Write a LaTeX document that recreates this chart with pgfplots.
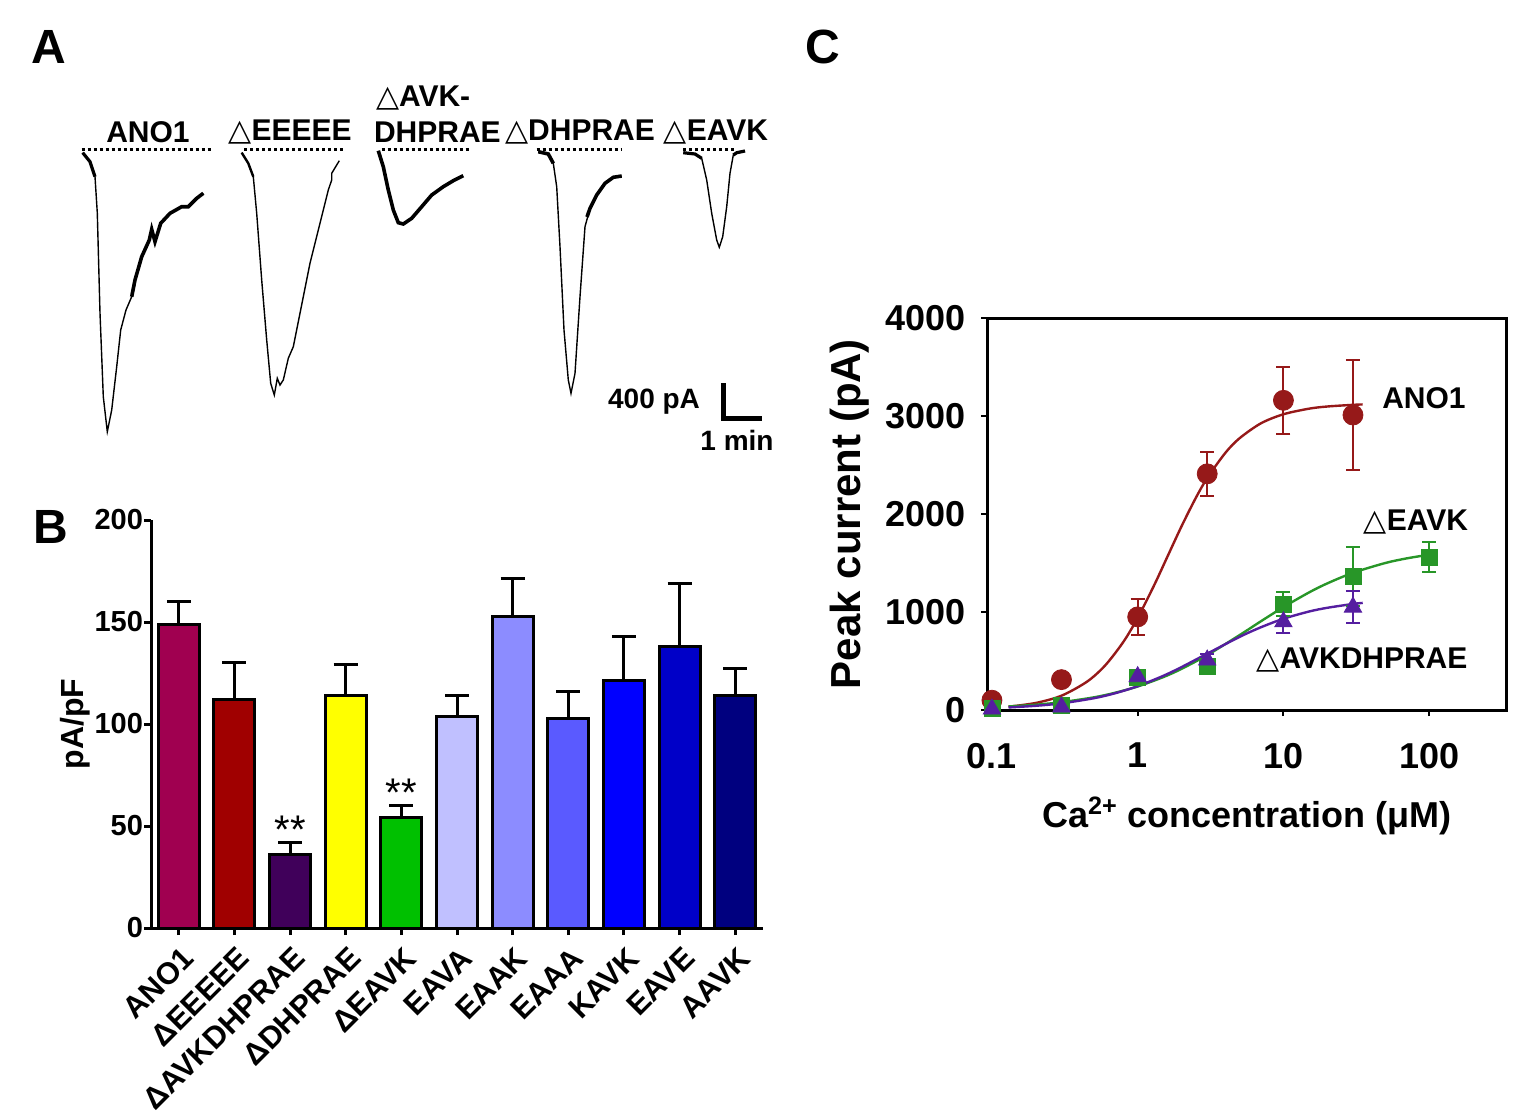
\documentclass[border=0pt]{standalone}
\usepackage{pgfplots}
\pgfplotsset{compat=1.18}
\usepackage{fontspec}
\setmainfont{Liberation Sans}
\newfontfamily\dejavu{DejaVu Sans}
\newcommand{\tri}{{\dejavu\mdseries △}}
\newcommand{\fA}{\fontsize{15pt}{15pt}\selectfont\bfseries}
\newcommand{\fL}{\fontsize{24pt}{24pt}\selectfont\bfseries}
\definecolor{cANO}{RGB}{160,0,80}
\definecolor{cEEE}{RGB}{160,0,0}
\definecolor{cAVK}{RGB}{64,0,90}
\definecolor{cDHP}{RGB}{255,255,0}
\definecolor{cEAVK}{RGB}{0,192,0}
\definecolor{cEAVA}{RGB}{192,192,255}
\definecolor{cEAAK}{RGB}{140,140,255}
\definecolor{cEAAA}{RGB}{90,90,255}
\definecolor{cKAVK}{RGB}{0,0,255}
\definecolor{cEAVE}{RGB}{0,0,200}
\definecolor{cAAVK}{RGB}{0,0,127}
\definecolor{lRed}{RGB}{150,25,25}
\definecolor{lGreen}{RGB}{40,150,40}
\definecolor{lPurple}{RGB}{85,30,160}
\pgfplotsset{
  barB/.style={ybar, bar shift=0pt, bar width=20.5pt, draw=black, line width=1.5pt, fill=#1,
    error bars/.cd, y dir=plus, y explicit,
    error bar style={line width=1.5pt, black},
    error mark options={rotate=90, line width=1.5pt, black, mark size=6pt}},
  ptC/.style={only marks, color=#1,
    error bars/.cd, y dir=both, y explicit,
    error bar style={line width=1pt, #1},
    error mark options={rotate=90, line width=1pt, #1, mark size=3.5pt}}
}
\begin{document}
\begin{tikzpicture}
\useasboundingbox (0,0) rectangle (758.5pt,-559pt);
% ---------------- overlay axis in pixel coordinates (panel A, labels)
\begin{axis}[at={(0pt,0pt)}, anchor=north west, scale only axis,
  width=758.5pt, height=559pt, xmin=0, xmax=1517, ymin=0, ymax=1118,
  y dir=reverse, hide axis, clip=false]
% dotted stimulus bars
\addplot[line width=1.6pt, dash pattern=on 1.4pt off 1.6pt] coordinates {(81.7,149.3) (210.7,149.3)};
\addplot[line width=1.6pt, dash pattern=on 1.4pt off 1.6pt] coordinates {(244.3,149.3) (343.3,149.3)};
\addplot[line width=1.6pt, dash pattern=on 1.4pt off 1.6pt] coordinates {(381.7,149.3) (470,149.3)};
\addplot[line width=1.6pt, dash pattern=on 1.4pt off 1.6pt] coordinates {(536.7,149.3) (621.7,149.3)};
\addplot[line width=1.6pt, dash pattern=on 1.4pt off 1.6pt] coordinates {(683.3,149.3) (736.7,149.3)};
% ANO1 trace
\addplot[line width=0.7pt] coordinates {(82.7,152.7) (90,161.7) (95,176.7) (97.3,213) (100,313) (103.3,396.7) (107.3,431.7) (111.7,410) (116.7,366.7) (120.7,330) (126,310) (131.7,296.7) (135,280) (141.7,256.7) (149.3,240) (151.7,229.3) (155,241.7) (160.7,223.3) (170,213.3) (181.7,206.7) (188.3,206.7) (196.7,198.3) (203.3,193.3)};
\addplot[line width=1.6pt] coordinates {(82.7,152.7) (90,161.7) (95,176.7)};
\addplot[line width=1.8pt] coordinates {(131.7,296.7) (135,280) (141.7,256.7) (149.3,240) (151.7,229.3) (155,241.7) (160.7,223.3) (170,213.3) (181.7,206.7) (188.3,206.7) (196.7,198.3) (203.3,193.3)};
% dEEEEE trace
\addplot[line width=0.7pt] coordinates {(241.7,152.7) (248.3,163.3) (253.3,176.7) (256.7,213.3) (261.7,280) (266.7,340) (270.7,383.3) (274.3,395) (277.3,378.3) (280,385) (283.3,380) (288.3,358.3) (293.3,346.7) (300,313.3) (310,263.3) (320,223.3) (328.3,190) (331.7,180) (331.7,173.3) (339.3,160.7)};
\addplot[line width=1.2pt] coordinates {(241.7,152.7) (248.3,163.3) (253.3,176.7)};
% dAVK-DHPRAE trace
\addplot[line width=1.8pt] coordinates {(378.3,150.7) (383.3,166.7) (388.3,190) (393.3,210) (398.3,222.7) (403.3,224) (411.7,218.3) (421.7,206.7) (431.7,195) (443.3,186.7) (453.3,180.7) (463.3,175.7)};
% dDHPRAE trace
\addplot[line width=0.7pt] coordinates {(538.3,151.7) (548.3,154) (553.3,163.3) (556.7,186.7) (560,246.7) (564,330) (568.3,380) (571,393.3) (575,373.3) (580,296.7) (585,226.7) (590,208.3) (596.7,195) (605,183.3) (613.3,177.3) (621.7,176)};
\addplot[line width=1.8pt] coordinates {(538.3,151.7) (548.3,154) (553.3,163.3)};
\addplot[line width=1.8pt] coordinates {(587,217) (590,208.3) (596.7,195) (605,183.3) (613.3,177.3) (621.7,176)};
% dEAVK trace
\addplot[line width=0.7pt] coordinates {(683.3,152.7) (695,154) (701.7,158.3) (706.7,180) (711.7,213.3) (716.7,240) (719.3,247.3) (722.7,236.7) (726.7,206.7) (730,173.3) (733.3,155) (736.7,152.7) (745,151)};
\addplot[line width=1.6pt] coordinates {(683.3,152.7) (695,154) (701.7,158.3)};
\addplot[line width=1.6pt] coordinates {(733.3,155) (736.7,152.7) (745,151)};
% scale bar
\addplot[line width=2.2pt, line join=miter] coordinates {(723.3,383.3) (723.3,418.3) (761.7,418.3)};
% texts panel A
\node[font=\fA] at (axis cs:148,132) {ANO1};
\node[font=\fA] at (axis cs:290,132) {\tri EEEEE};
\node[font=\fA, anchor=west] at (axis cs:369,98) {\tri AVK-};
\node[font=\fA, anchor=west] at (axis cs:367,132) {DHPRAE};
\node[font=\fA] at (axis cs:580,132) {\tri DHPRAE};
\node[font=\fA] at (axis cs:716,132) {\tri EAVK};
\node[font=\fontsize{14pt}{14pt}\selectfont\bfseries, anchor=east] at (axis cs:707,402) {400 pA};
\node[font=\fontsize{14pt}{14pt}\selectfont\bfseries] at (axis cs:737,440) {1 min};
% panel letters
\node[font=\fL] at (axis cs:49,47) {A};
\node[font=\fL] at (axis cs:51,527) {B};
\node[font=\fL] at (axis cs:823,47) {C};
% panel C series labels
\node[font=\fA] at (axis cs:1424,398) {ANO1};
\node[font=\fA] at (axis cs:1416,522) {\tri EAVK};
\node[font=\fA] at (axis cs:1362,660) {\tri AVKDHPRAE};
\end{axis}
% ---------------- panel B
\begin{axis}[at={(75.5pt,-464pt)}, anchor=south west, scale only axis,
  width=306pt, height=204pt,
  xmin=-0.5, xmax=10.5, ymin=0, ymax=200,
  axis x line*=bottom, axis y line*=left,
  axis line style={line width=1.5pt, -},
  tick align=outside, major tick length=3.5pt,
  tick style={line width=1.5pt, black},
  xtick={0,1,2,3,4,5,6,7,8,9,10},
  xticklabels={ANO1,ΔEEEEE,ΔAVKDHPRAE,ΔDHPRAE,ΔEAVK,EAVA,EAAK,EAAA,KAVK,EAVE,AAVK},
  ytick={0,50,100,150,200},
  yticklabels={0,50,100,150,200},
  yticklabel style={font=\fontsize{14.5pt}{14.5pt}\selectfont\bfseries, xshift=3pt},
  xticklabel style={font=\fontsize{15.3pt}{15.3pt}\selectfont\bfseries, yshift=-5pt, xshift=1pt, rotate=45, anchor=north east, inner sep=0pt},
  ylabel={pA/pF},
  ylabel style={font=\fontsize{16pt}{16pt}\selectfont\bfseries, at={(axis description cs:-0.124,0.5)}, anchor=center},
  clip=false]
\addplot[barB=cANO] coordinates {(0,149) +- (0,11)};
\addplot[barB=cEEE] coordinates {(1,112) +- (0,18)};
\addplot[barB=cAVK] coordinates {(2,36) +- (0,6)};
\addplot[barB=cDHP] coordinates {(3,114) +- (0,15)};
\addplot[barB=cEAVK] coordinates {(4,54) +- (0,6)};
\addplot[barB=cEAVA] coordinates {(5,103.5) +- (0,10.5)};
\addplot[barB=cEAAK] coordinates {(6,152.5) +- (0,19)};
\addplot[barB=cEAAA] coordinates {(7,102.7) +- (0,13.3)};
\addplot[barB=cKAVK] coordinates {(8,121.5) +- (0,21.5)};
\addplot[barB=cEAVE] coordinates {(9,138) +- (0,31)};
\addplot[barB=cAAVK] coordinates {(10,114) +- (0,13)};
\node[font=\fontsize{20pt}{20pt}\selectfont, anchor=south] at (axis cs:2,38) {**};
\node[font=\fontsize{20pt}{20pt}\selectfont, anchor=south] at (axis cs:4,56) {**};
\end{axis}
% ---------------- panel C
\begin{axis}[at={(493.5pt,-355pt)}, anchor=south west, scale only axis,
  width=260pt, height=196pt,
  xmode=log, xmin=0.0925, xmax=342, ymin=0, ymax=4000,
  xtick={0.1,1,10,100}, xticklabels={0.1,1,10,100}, xminorticks=false,
  ytick={0,1000,2000,3000,4000}, yticklabels={0,1000,2000,3000,4000},
  tick pos=left, tick align=outside, major tick length=3pt,
  axis line style={line width=1.5pt},
  tick style={line width=1pt, black},
  tick label style={font=\fontsize{18pt}{18pt}\selectfont\bfseries},
  xticklabel style={yshift=-10pt},
  yticklabel style={xshift=-4pt},
  xlabel={Ca\textsuperscript{2+} concentration (μM)},
  ylabel={Peak current (pA)},
  xlabel style={font=\fontsize{18pt}{18pt}\selectfont\bfseries, at={(axis description cs:0.5,-0.270)}, anchor=center},
  ylabel style={font=\fontsize{21pt}{21pt}\selectfont\bfseries, at={(axis description cs:-0.2635,0.5)}, anchor=center},
  clip=false]
% fitted curves
\addplot[lRed, line width=1.2pt, smooth] coordinates {(0.13,34) (0.2,72) (0.3,146) (0.45,290) (0.6,457) (0.8,698) (1,940) (1.3,1276) (1.6,1565) (2,1875) (2.5,2162) (3,2367) (4,2625) (5,2773) (7,2925) (10,3018) (15,3075) (20,3097) (30,3114) (35,3118)};
\addplot[lGreen, line width=1.2pt, smooth] coordinates {(0.13,36) (0.2,54) (0.3,80) (0.5,129) (0.7,176) (1,240) (1.5,336) (2,420) (3,560) (5,764) (7,905) (10,1050) (15,1200) (20,1292) (30,1400) (50,1500) (70,1547) (100,1585)};
\addplot[lPurple, line width=1.2pt, smooth] coordinates {(0.13,26) (0.2,43) (0.3,68) (0.5,120) (0.7,171) (1,243) (1.5,349) (2,438) (3,575) (5,746) (7,844) (10,931) (15,1005) (20,1043) (30,1082) (35,1093)};
% data points
\addplot[mark=*, mark size=5pt, ptC=lRed] coordinates {(0.1,100) +- (0,30) (0.3,310) +- (0,70) (1,950) +- (0,180) (3,2410) +- (0,225) (10,3160) +- (0,340) (30,3010) +- (0,560)};
\addplot[mark=square*, mark size=4pt, ptC=lGreen] coordinates {(0.1,20) +- (0,10) (0.3,50) +- (0,20) (1,330) +- (0,50) (3,440) +- (0,50) (10,1080) +- (0,120) (30,1360) +- (0,300) (100,1560) +- (0,150)};
\addplot[mark=triangle*, mark size=5pt, ptC=lPurple] coordinates {(0.1,10) +- (0,10) (0.3,30) +- (0,20) (1,340) +- (0,60) (3,510) +- (0,60) (10,900) +- (0,110) (30,1050) +- (0,160)};
\end{axis}
\end{tikzpicture}
\end{document}
